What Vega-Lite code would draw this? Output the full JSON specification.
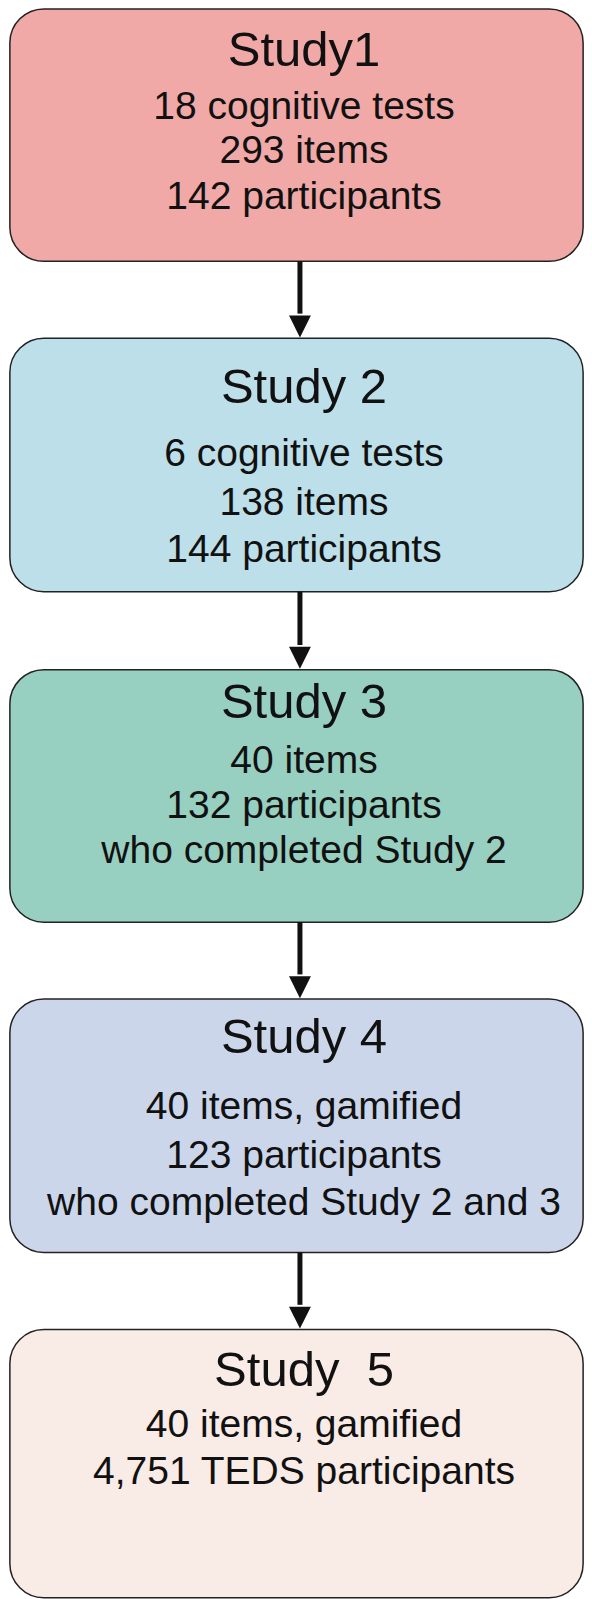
{
"$schema":"https://vega.github.io/schema/vega-lite/v6.json",
"width":592,"height":1599,"padding":0,
"autosize":{"type":"fit","contains":"padding"},
"background":"white",
"config":{"view":{"stroke":null}},
"datasets":{
"boxes":[
{"x1":10,"x2":591,"y1":9,"y2":265,"c":"#f0a9a6"},
{"x1":10,"x2":591,"y1":343,"y2":600,"c":"#bcdfe9"},
{"x1":10,"x2":591,"y1":679,"y2":935,"c":"#97cfc0"},
{"x1":10,"x2":591,"y1":1013,"y2":1270,"c":"#cbd6ea"},
{"x1":10,"x2":591,"y1":1348,"y2":1620,"c":"#f9ebe6"}],
"arrows":[
{"x":304,"y1":265,"y2":318,"tip":331},
{"x":304,"y1":600,"y2":654,"tip":667},
{"x":304,"y1":935,"y2":988,"tip":1001},
{"x":304,"y1":1270,"y2":1323,"tip":1336}],
"texts":[
{"y":52,"t":"Study1","s":49},
{"y":108,"t":"18 cognitive tests","s":39},
{"y":153,"t":"293 items","s":39},
{"y":200,"t":"142 participants","s":39},
{"y":393,"t":"Study 2","s":49},
{"y":460,"t":"6 cognitive tests","s":39},
{"y":510,"t":"138 items","s":39},
{"y":558,"t":"144 participants","s":39},
{"y":713,"t":"Study 3","s":49},
{"y":772,"t":"40 items","s":39},
{"y":817,"t":"132 participants","s":39},
{"y":863,"t":"who completed Study 2","s":39},
{"y":1052,"t":"Study 4","s":49},
{"y":1122,"t":"40 items, gamified","s":39},
{"y":1172,"t":"123 participants","s":39},
{"y":1220,"t":"who completed Study 2 and 3","s":39},
{"y":1390,"t":"Study\u00a0 5","s":49},
{"y":1445,"t":"40 items, gamified","s":39},
{"y":1493,"t":"4,751 TEDS participants","s":39}]
},
"layer":[
{"data":{"name":"boxes"},"mark":{"type":"rect","cornerRadius":34,"stroke":"#222","strokeWidth":1.5},
"encoding":{"x":{"field":"x1","type":"quantitative","scale":{"domain":[0,592]},"axis":null},"x2":{"field":"x2"},
"y":{"field":"y1","type":"quantitative","scale":{"domain":[0,1599],"reverse":true},"axis":null},"y2":{"field":"y2"},
"fill":{"field":"c","type":"nominal","scale":null}}},
{"data":{"name":"arrows"},"mark":{"type":"rule","strokeWidth":5,"color":"#111"},
"encoding":{"x":{"field":"x","type":"quantitative"},"y":{"field":"y1","type":"quantitative"},"y2":{"field":"y2"}}},
{"data":{"name":"arrows"},"mark":{"type":"point","shape":"M-1,-1L1,-1L0,1Z","filled":true,"color":"#111","opacity":1,"size":480},
"encoding":{"x":{"field":"x","type":"quantitative"},"y":{"field":"tip","type":"quantitative"}}},
{"data":{"name":"texts"},"mark":{"type":"text","font":"Liberation Sans","align":"center","baseline":"middle","color":"#111","x":304},
"encoding":{"y":{"field":"y","type":"quantitative"},"text":{"field":"t"},"size":{"field":"s","type":"quantitative","scale":null}}}
]
}
